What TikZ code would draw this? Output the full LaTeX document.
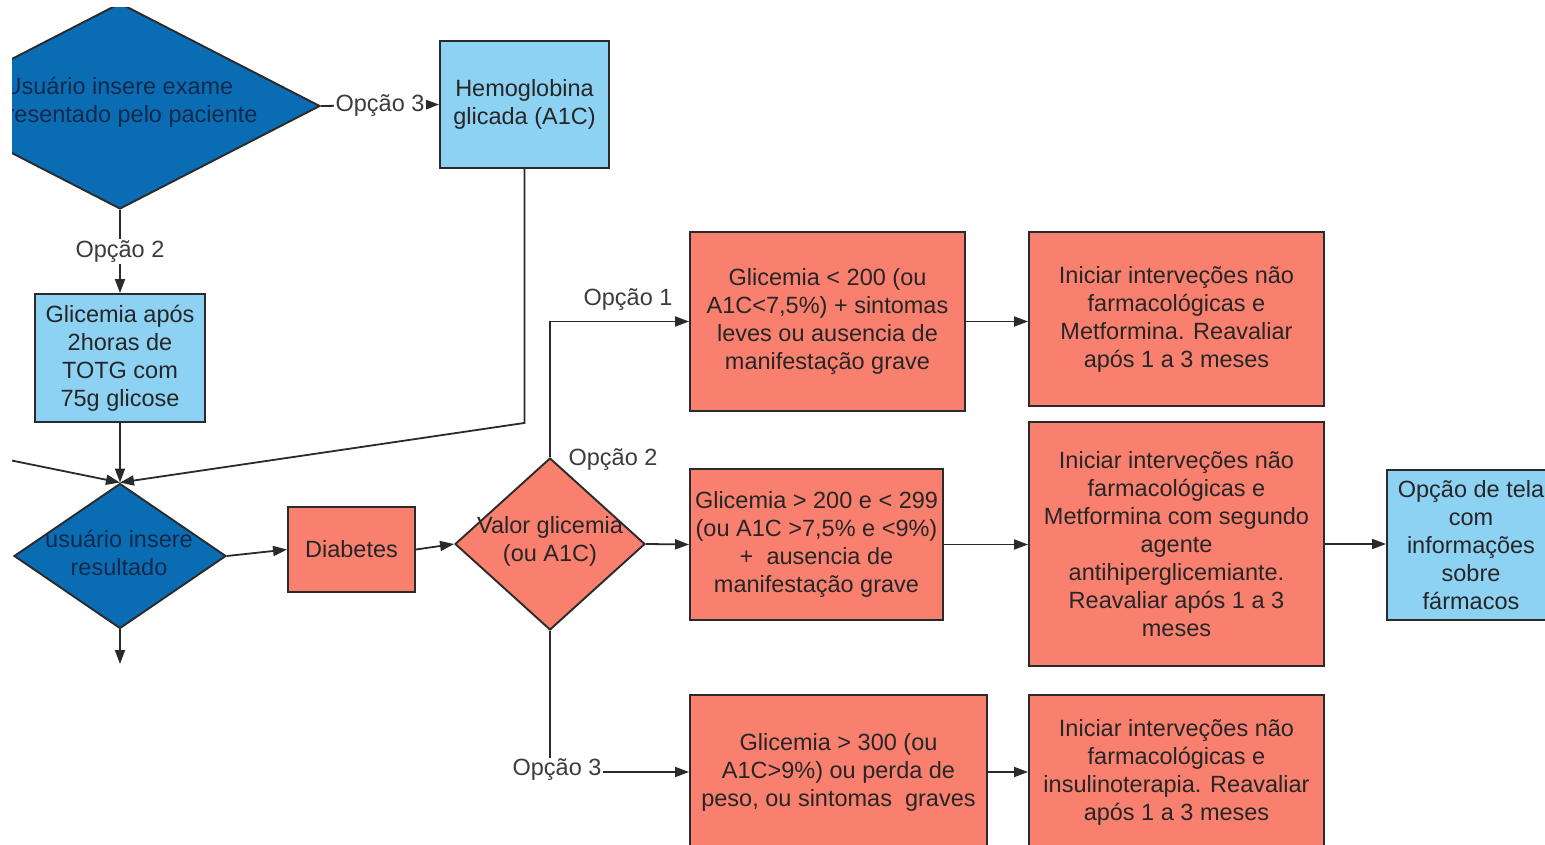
\documentclass[tikz,border=0pt]{standalone}
\usepackage{fontspec}
\setmainfont{Liberation Sans}
\usetikzlibrary{arrows.meta,shapes.geometric}

\definecolor{darkblue}{HTML}{0A6DB3}
\definecolor{lightblue}{HTML}{8DD1F3}
\definecolor{salmon}{HTML}{F9806F}
\definecolor{edgegray}{HTML}{2A2A2A}
\definecolor{ink}{HTML}{262626}
\definecolor{navyink}{HTML}{13294B}

\tikzset{
  base/.style={draw=edgegray, line width=1.9pt, inner sep=0pt, align=center,
    text=ink, font=\fontsize{23.5}{28}\selectfont},
  bluebox/.style={base, rectangle, fill=lightblue},
  redbox/.style={base, rectangle, fill=salmon},
  bluediamond/.style={base, diamond, fill=darkblue},
  reddiamond/.style={base, diamond, fill=salmon},
  txt/.style={inner sep=0pt, align=center, font=\fontsize{23.5}{28}\selectfont, text=ink},
  lbl/.style={inner sep=1.5pt, font=\fontsize{23.5}{28}\selectfont, text=ink!90},
  arr/.style={draw=edgegray, line width=1.8pt, -{Triangle[length=14pt,width=10pt]}},
}

\begin{document}
\begin{tikzpicture}[x=1pt,y=-1pt]
\useasboundingbox (0,0) rectangle (1545,845);
\fill[white] (0,0) rectangle (1545,845);

\begin{scope}
\clip (12,8) rectangle (1545,845);

% --- input stage (blue) ---
\node[bluediamond, minimum width=400pt, minimum height=206pt] (tdia) at (120,106) {};
\node[txt, text=navyink] (tdiatext) at (119,102) {Usuário insere exame\\apresentado pelo paciente};

\node[bluebox, minimum width=169pt, minimum height=127pt] (hemo) at (524.5,104.5)
  {Hemoglobina\\glicada (A1C)};

\node[bluebox, minimum width=170pt, minimum height=128pt] (glic) at (120,358)
  {Glicemia após\\2horas de\\TOTG com\\75g glicose};

\node[bluediamond, minimum width=212pt, minimum height=145pt] (ldia) at (120,556) {};
\node[txt, text=navyink] (ldiatext) at (119,553) {usuário insere\\resultado};

\coordinate (offleft) at (-40,450);
\coordinate (below) at (120,664);

% --- evaluation stage (salmon) ---
\node[redbox, minimum width=127pt, minimum height=85pt] (diab) at (351.5,549.5) {Diabetes};

\node[reddiamond, minimum width=190pt, minimum height=172pt] (vdia) at (550,544) {};
\node[txt] (vdiatext) at (550,541) {Valor glicemia\\(ou A1C)};

\node[redbox, minimum width=275pt, minimum height=179pt] (b1) at (827.5,321.5)
  {Glicemia < 200 (ou\\A1C<7,5\%) + sintomas\\leves ou ausencia de\\manifestação grave};
\node[redbox, minimum width=253pt, minimum height=151pt] (b2) at (816.5,544.5)
  {Glicemia > 200 e < 299\\(ou A1C >7,5\% e <9\%)\\+\ \ ausencia de\\manifestação grave};
\node[redbox, minimum width=297pt, minimum height=154pt] (b3) at (838.5,772)
  {Glicemia > 300 (ou\\A1C>9\%) ou perda de\\peso, ou sintomas\ \ graves};

\node[redbox, minimum width=295pt, minimum height=174pt] (b4) at (1176.5,319)
  {Iniciar interveções não\\farmacológicas e\\Metformina. Reavaliar\\após 1 a 3 meses};
\node[redbox, minimum width=295pt, minimum height=244pt] (b5) at (1176.5,544)
  {Iniciar interveções não\\farmacológicas e\\Metformina com segundo\\agente\\antihiperglicemiante.\\Reavaliar após 1 a 3\\meses};
\node[redbox, minimum width=295pt, minimum height=154pt] (b7) at (1176.5,772)
  {Iniciar interveções não\\farmacológicas e\\insulinoterapia. Reavaliar\\após 1 a 3 meses};

\node[bluebox, minimum width=168pt, minimum height=150pt] (b6) at (1471,545)
  {Opção de tela\\com\\informações\\sobre\\fármacos};

% --- connectors ---
\draw[arr] (tdia.east) -- node[lbl, fill=white] (o3top) {Opção 3} (hemo.west);
\draw[arr] (tdia.south) -- node[lbl, fill=white] (o2top) {Opção 2} (glic.north);
\draw[arr] (glic.south) -- (ldia.north);
\draw[arr] (hemo.south) -- (hemo.south |- glic.south) -- (ldia.north);
\draw[arr] (offleft) -- (ldia.north);
\draw[arr] (ldia.south) -- (below);

\draw[arr] (ldia.east) -- (diab.west);
\draw[arr] (diab.east) -- (vdia.west);

\draw[arr] (vdia.north) |- (b1.west);
\node[lbl] (o1) at (628,300) {Opção 1};
\draw[arr] (vdia.east) -- (b2.west);
\node[lbl] (o2) at (613,460) {Opção 2};
\draw[arr] (vdia.south) |- (b3.west);
\node[lbl, fill=white] (o3) at (557,770) {Opção 3};

\draw[arr] (b1.east) -- (b1.east -| b4.west);
\draw[arr] (b2.east) -- (b2.east -| b5.west);
\draw[arr] (b3.east) -- (b3.east -| b7.west);
\draw[arr] (b5.east) -- (b5.east -| b6.west);

\end{scope}
\end{tikzpicture}
\end{document}
